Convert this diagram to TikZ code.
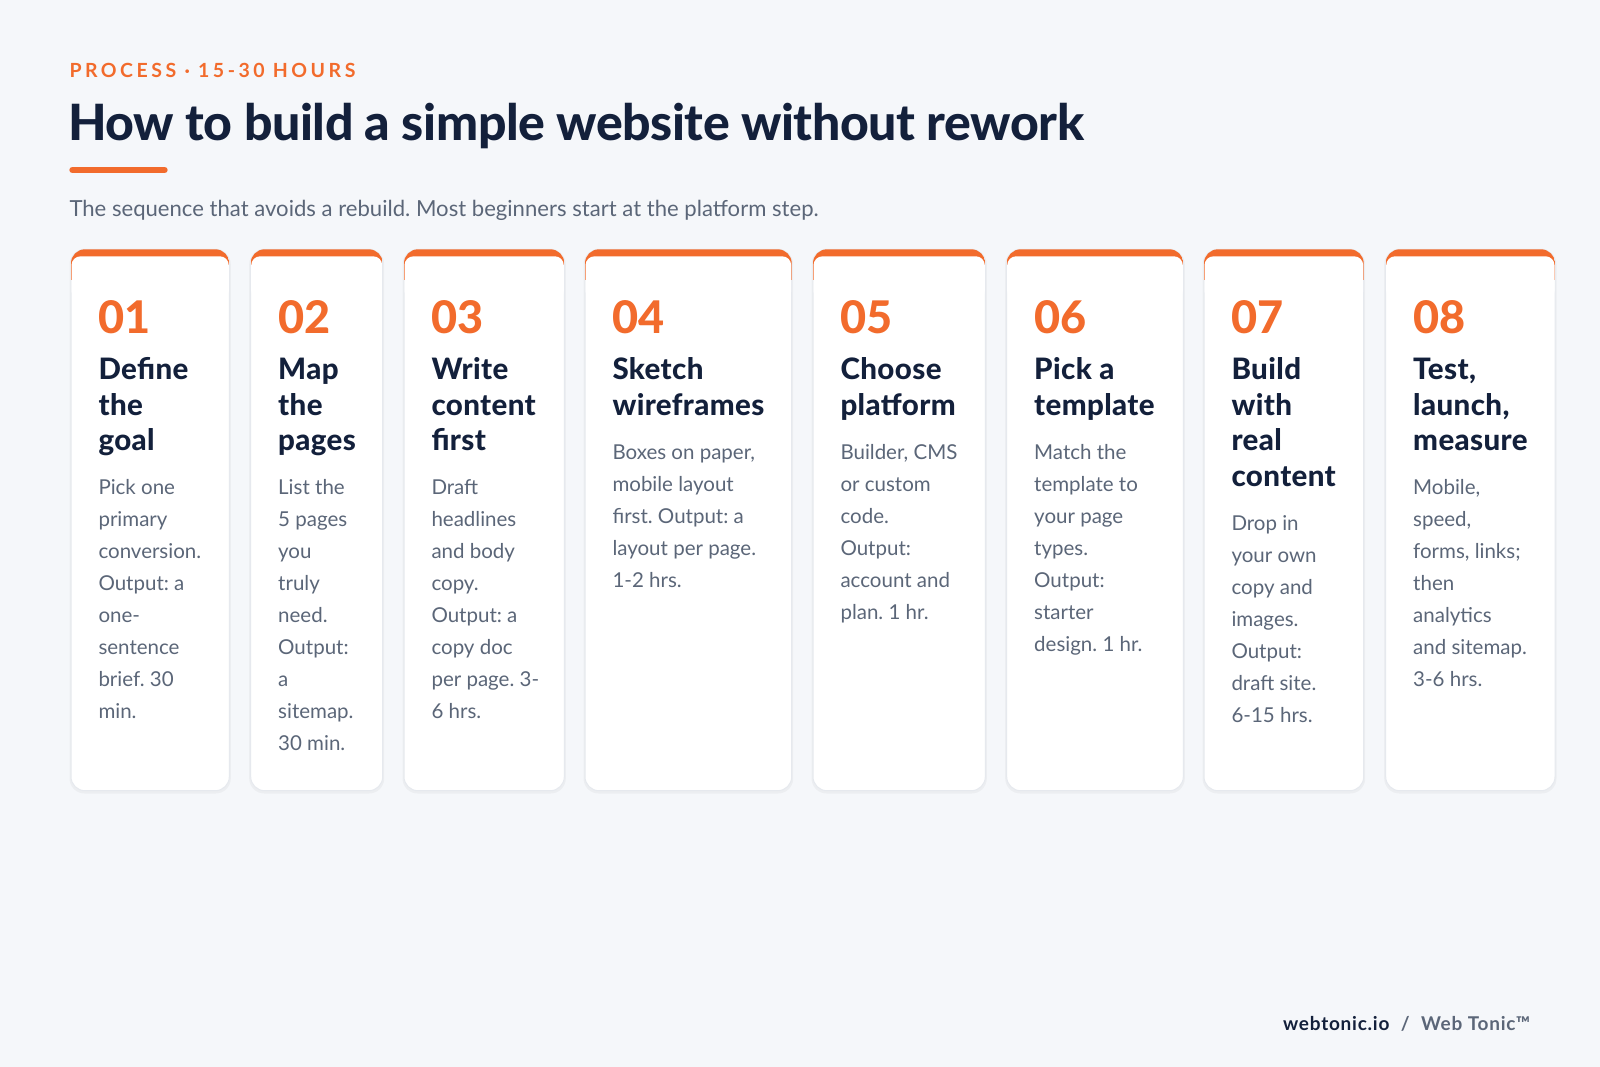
\documentclass[tikz,border=0pt]{standalone}
\usepackage{fontspec}
\setmainfont{Lato}
\IfFontExistsTF{Lato Heavy}{\newfontfamily\heavyfont{Lato Heavy}}{\newfontfamily\heavyfont[UprightFont={* Bold}]{Lato}}
\definecolor{bgcol}{HTML}{F5F7FA}
\definecolor{accent}{HTML}{F26B2C}
\definecolor{navy}{HTML}{13203B}
\definecolor{graytext}{HTML}{5B6678}
\definecolor{cardline}{HTML}{E6E9EE}
\tikzset{
  numstyle/.style={anchor=base west, inner sep=0pt, outer sep=0pt, text=accent, font=\fontsize{45}{50}\selectfont\heavyfont},
  headstyle/.style={anchor=base west, inner sep=0pt, outer sep=0pt, text=navy, font=\fontsize{29.5}{34}\selectfont\heavyfont\addfontfeatures{LetterSpace=1.3}},
  bodystyle/.style={anchor=base west, inner sep=0pt, outer sep=0pt, text=graytext, font=\fontsize{20.5}{24}\selectfont},
}
\newcommand\mkcard[6]{%
  \fill[black, opacity=0.035, rounded corners=15pt] (#2-1.5,249.3) rectangle (#3+1.5,793.5);
  \path[fill=white, draw=cardline, line width=1pt, rounded corners=14pt] (#2,249.3) rectangle (#3,790.7);
  \begin{scope}
    \clip[rounded corners=14pt] (#2,249.3) rectangle (#3,790.7);
    \fill[accent] (#2,249.3) rectangle (#3,280);
    \fill[white, rounded corners=9pt] (#2+0.5,256.3) rectangle (#3-0.5,300);
  \end{scope}
  \node[numstyle] (num#1) at (#2+27.5,333) {0#1};
  \foreach \t [count=\k] in {#5} {\node[headstyle] (head#1-\k) at (#2+27.5,{379.3+35.7*(\k-1)}) {\t};}
  \pgfmathsetmacro\bodytop{379.3+35.7*(#4-1)+44}
  \foreach \t [count=\k] in {#6} {\node[bodystyle] (body#1-\k) at (#2+27.5,{\bodytop+32*(\k-1)}) {\t};}
}
\begin{document}
\frenchspacing
\begin{tikzpicture}[x=1pt,y=-1pt]
\fill[bgcol] (0,0) rectangle (1600,1067);
\useasboundingbox (0,0) rectangle (1600,1067);
% header
\node[anchor=base west, inner sep=0pt, text=accent, font=\fontsize{19.5}{22}\selectfont\bfseries\addfontfeatures{LetterSpace=18}] (kicker) at (69.3,77.3) {PROCESS · 15-30 HOURS};
\node[anchor=base west, inner sep=0pt, text=navy, font=\fontsize{50}{56}\selectfont\heavyfont\addfontfeatures{LetterSpace=-0.9}] (title) at (68,140.7) {How to build a simple website without rework};
\draw[accent, line width=6.6pt, line cap=round] (72.6,170) coordinate (ul1) -- (164.4,170) coordinate (ul2);
\node[anchor=base west, inner sep=0pt, text=graytext, font=\fontsize{22.1}{25}\selectfont] (subtitle) at (69.3,216.7) {The sequence that avoids a rebuild. Most beginners start at the platform step.};
% cards
\mkcard{1}{71}{229.3}{3}{Define,the,goal}{Pick one,primary,conversion.,Output: a,one-,sentence,brief. 30,min.}
\mkcard{2}{250.7}{382.7}{3}{Map,the,pages}{List the,5 pages,you,truly,need.,Output:,a,sitemap.,30 min.}
\mkcard{3}{404}{564.3}{3}{Write,content,first}{Draft,headlines,and body,copy.,Output: a,copy doc,per page. 3-,6 hrs.}
\mkcard{4}{585}{791.7}{2}{Sketch,wireframes}{{Boxes on paper,},mobile layout,first. Output: a,layout per page.,1-2 hrs.}
\mkcard{5}{813}{985.3}{2}{Choose,platform}{{Builder, CMS},or custom,code.,Output:,account and,plan. 1 hr.}
\mkcard{6}{1006.7}{1183.3}{2}{Pick a,template}{Match the,template to,your page,types.,Output:,starter,design. 1 hr.}
\mkcard{7}{1204}{1363.7}{4}{Build,with,real,content}{Drop in,your own,copy and,images.,Output:,draft site.,6-15 hrs.}
\mkcard{8}{1385.7}{1555}{3}{{Test,},{launch,},measure}{{Mobile,},{speed,},{forms, links;},then,analytics,and sitemap.,3-6 hrs.}
% footer
\node[anchor=base east, inner sep=0pt, font=\fontsize{19}{22}\selectfont\bfseries\addfontfeatures{LetterSpace=4}] (footer) at (1530.5,1030.7) {\textcolor{navy}{webtonic.io}\hspace{0.6em}\textcolor{graytext}{/}\hspace{0.6em}\textcolor{graytext}{Web Tonic™}};
\end{tikzpicture}
\end{document}
